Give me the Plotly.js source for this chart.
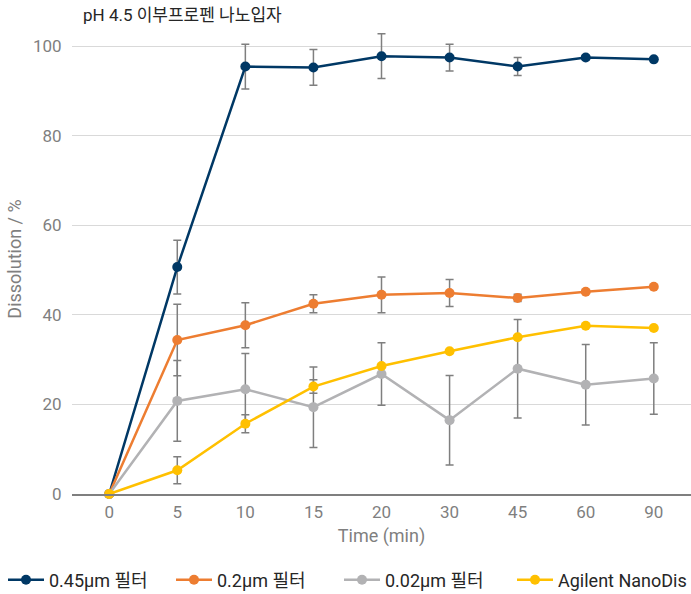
<!DOCTYPE html>
<html>
<head>
<meta charset="utf-8">
<script src="https://cdn.plot.ly/plotly-3.0.1.min.js"></script>
<style>html,body{margin:0;padding:0;background:#fff;overflow:hidden;}#chart{width:691px;height:594px;}</style>
</head>
<body>
<div id="chart"></div>
<script>
// Data
var timeLabels = ['0', '5', '10', '15', '20', '30', '45', '60', '90'];
var seriesNames = ['0.45μm 필터', '0.2μm 필터', '0.02μm 필터', 'Agilent NanoDis System'];
var filter045 = [0, 50.7, 95.5, 95.3, 97.8, 97.5, 95.5, 97.5, 97.1];
var filter045Err = [0, 6, 5, 4, 5, 3, 2, 0.5, 0];
var filter02 = [0, 34.4, 37.7, 42.5, 44.5, 44.9, 43.8, 45.2, 46.3];
var filter02Err = [0, 8, 5, 2, 4, 3, 0.8, 0, 0];
var filter002 = [0, 20.8, 23.4, 19.4, 26.8, 16.5, 28.0, 24.4, 25.8];
var filter002Err = [0, 9, 8, 9, 7, 10, 11, 9, 8];
var nanoDis = [0, 5.3, 15.7, 24.0, 28.6, 31.9, 35.0, 37.6, 37.1];
var nanoDisErr = [0, 3, 2, 1.5, 0, 0, 0, 0, 0];

var colors = ['#003865', '#ed7d31', '#b2b2b4', '#ffc000'];
var values = [filter045, filter02, filter002, nanoDis];
var errs = [filter045Err, filter02Err, filter002Err, nanoDisErr];
var legendIds = ['legend', 'legend', 'legend', 'legend2'];

var FONT = 'Roboto, "Noto Sans CJK KR", sans-serif';

var traces = values.map(function (v, i) {
  return {
    type: 'scatter',
    mode: 'lines+markers',
    name: seriesNames[i],
    legend: legendIds[i],
    x: timeLabels,
    y: v,
    line: {color: colors[i], width: 2.5},
    marker: {color: colors[i], size: 10},
    error_y: {type: 'data', array: errs[i], visible: true, color: '#7f7f7f', thickness: 1.5, width: 4},
    cliponaxis: false
  };
});

var legendBase = {
  orientation: 'h',
  xanchor: 'left',
  y: (494 - 580) / 470,
  yanchor: 'middle',
  font: {family: FONT, size: 18, color: '#262626'},
  itemwidth: 36,
  bgcolor: 'rgba(0,0,0,0)',
  traceorder: 'normal'
};

var layout = {
  width: 691,
  height: 594,
  margin: {l: 72, r: 0, t: 24, b: 100, autoexpand: false},
  paper_bgcolor: '#ffffff',
  plot_bgcolor: '#ffffff',
  font: {family: FONT, size: 17, color: '#7f7f7f'},
  title: {
    text: 'pH 4.5 이부프로펜 나노입자',
    font: {family: FONT, size: 17, color: '#262626'},
    xref: 'container', yref: 'container',
    x: 83 / 691, xanchor: 'left',
    y: 1 - 15 / 594, yanchor: 'middle'
  },
  xaxis: {
    type: 'category',
    categoryorder: 'array',
    categoryarray: timeLabels,
    showgrid: false,
    showline: true,
    linecolor: '#7f7f7f',
    linewidth: 1.5,
    ticks: 'outside',
    ticklen: 2,
    tickcolor: 'rgba(0,0,0,0)',
    tickfont: {family: FONT, size: 17, color: '#7f7f7f'},
    title: {text: 'Time (min)', font: {family: FONT, size: 18, color: '#7f7f7f'}, standoff: 8},
    automargin: false,
    fixedrange: true
  },
  yaxis: {
    range: [0, 105],
    tickvals: [0, 20, 40, 60, 80, 100],
    showgrid: true,
    gridcolor: '#d9d9d9',
    gridwidth: 1,
    zeroline: false,
    showline: false,
    ticks: 'outside',
    ticklen: 6,
    tickcolor: 'rgba(0,0,0,0)',
    tickfont: {family: FONT, size: 17, color: '#7f7f7f'},
    title: {text: 'Dissolution / %', font: {family: FONT, size: 18, color: '#7f7f7f'}, standoff: 6},
    automargin: false,
    fixedrange: true
  },
  showlegend: true,
  legend: Object.assign({}, legendBase, {
    x: (3 - 72) / 619,
    entrywidth: 117,
    entrywidthmode: 'pixels'
  }),
  legend2: Object.assign({}, legendBase, {
    x: (512 - 72) / 619
  })
};

Plotly.newPlot('chart', traces, layout, {displayModeBar: false, staticPlot: true});
</script>
</body>
</html>
